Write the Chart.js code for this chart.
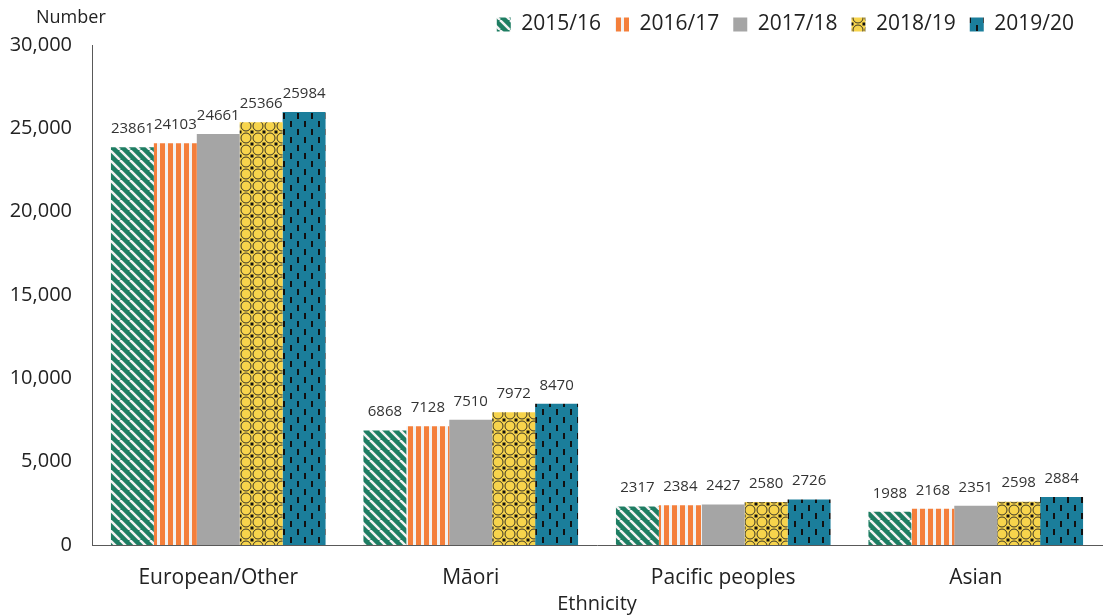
<!DOCTYPE html>
<html>
<head>
<meta charset="utf-8">
<script src="https://cdn.jsdelivr.net/npm/chart.js@4/dist/chart.umd.min.js"></script>
<style>
  html, body { margin: 0; padding: 0; background: #fff; }
  #wrap { width: 1110px; height: 616px; }
</style>
</head>
<body>
<div id="wrap"><canvas id="ethChart" width="1110" height="616"></canvas></div>
<script>
const categories = ["European/Other", "Māori", "Pacific peoples", "Asian"];
const years = ["2015/16", "2016/17", "2017/18", "2018/19", "2019/20"];
const v2015 = [23861, 6868, 2317, 1988];
const v2016 = [24103, 7128, 2384, 2168];
const v2017 = [24661, 7510, 2427, 2351];
const v2018 = [25366, 7972, 2580, 2598];
const v2019 = [25984, 8470, 2726, 2884];
const yTicks = [0, 5000, 10000, 15000, 20000, 25000, 30000];

const FONT = "'Open Sans', 'Liberation Sans', sans-serif";

// pattern helpers
function tile(w, h, draw) {
	const c = document.createElement("canvas");
	c.width = w; c.height = h;
	const g = c.getContext("2d");
	draw(g);
	return document.createElement("canvas").getContext("2d").createPattern(c, "repeat");
}

const greenStripes = tile(10, 10, g => {
	g.fillStyle = "#1e7d62";
	g.fillRect(0, 0, 10, 10);
	g.strokeStyle = "#f2f2f2";
	g.lineWidth = 2.5;
	for (let o = -10; o <= 10; o += 10) {
		g.beginPath();
		g.moveTo(o, 0);
		g.lineTo(o + 10, 10);
		g.stroke();
	}
});

const orangeStripes = tile(8, 8, g => {
	g.fillStyle = "#f2f2f2";
	g.fillRect(0, 0, 8, 8);
	g.fillStyle = "#f47f3b";
	g.fillRect(0, 0, 5, 8);
});

const yellowLattice = tile(12, 12, g => {
	g.fillStyle = "#f7d44c";
	g.fillRect(0, 0, 12, 12);
	g.strokeStyle = "#222";
	g.lineWidth = 0.9;
	g.beginPath();
	g.arc(6, 6, 5, 0, Math.PI * 2);
	g.stroke();
	g.fillStyle = "#111";
	g.fillRect(0, 0, 1.5, 1.5); g.fillRect(10.5, 0, 1.5, 1.5);
	g.fillRect(0, 10.5, 1.5, 1.5); g.fillRect(10.5, 10.5, 1.5, 1.5);
});

const tealDashes = tile(14, 16, g => {
	g.fillStyle = "#1b7e9b";
	g.fillRect(0, 0, 14, 16);
	g.fillStyle = "#111";
	g.fillRect(3, 1, 2, 6);
	g.fillRect(10, 9, 2, 6);
});

const fills = [greenStripes, orangeStripes, "#a5a5a5", yellowLattice, tealDashes];
const series = [v2015, v2016, v2017, v2018, v2019];

// value labels above bars
const barLabels = {
	id: "barLabels",
	afterDatasetsDraw(chart) {
		const ctx = chart.ctx;
		ctx.save();
		ctx.font = "15px " + FONT;
		ctx.fillStyle = "#333";
		ctx.textAlign = "center";
		ctx.textBaseline = "bottom";
		chart.data.datasets.forEach((ds, i) => {
			chart.getDatasetMeta(i).data.forEach((bar, j) => {
				ctx.fillText(String(ds.data[j]), bar.x, bar.y - 11);
			});
		});
		ctx.restore();
	}
};

// "Number" caption over the y axis
const yCaption = {
	id: "yCaption",
	afterDraw(chart) {
		const ctx = chart.ctx;
		ctx.save();
		ctx.font = "18px " + FONT;
		ctx.fillStyle = "#222";
		ctx.textAlign = "left";
		ctx.textBaseline = "middle";
		ctx.fillText("Number", 36, 18);
		ctx.restore();
	}
};

// legend sits a little in from the right edge
const legendShift = {
	id: "legendShift",
	afterUpdate(chart) {
		const lg = chart.legend;
		if (!lg) return;
		lg.right -= 14;
		lg.adjustHitBoxes();
	}
};

const ctx = document.getElementById("ethChart").getContext("2d");
new Chart(ctx, {
	type: "bar",
	data: {
		labels: categories,
		datasets: years.map((y, i) => ({
			label: y,
			data: series[i],
			backgroundColor: fills[i],
			borderWidth: 0,
			categoryPercentage: 0.85,
			barPercentage: 1.0,
		})),
	},
	options: {
		responsive: false,
		maintainAspectRatio: false,
		animation: false,
		layout: { padding: { left: 0, right: 8, top: 0, bottom: 0 } },
		plugins: {
			tooltip: { enabled: false },
			legend: {
				position: "top",
				align: "end",
				labels: {
					font: { size: 21, family: FONT },
					color: "#222",
					boxWidth: 14,
					boxHeight: 14,
					padding: 14,
				},
			},
		},
		scales: {
			x: {
				afterFit: axis => { axis.height = 71; },
				grid: { display: false },
				border: { display: true, color: "#595959", width: 1 },
				ticks: { font: { size: 21, family: FONT }, color: "#222", padding: 12 },
				title: { display: true, text: "Ethnicity", font: { size: 20, family: FONT }, color: "#222", padding: { top: 0, bottom: 0 } },
			},
			y: {
				min: 0,
				max: 30000,
				afterFit: axis => { axis.width = 92; },
				afterBuildTicks: axis => { axis.ticks = yTicks.map(v => ({ value: v })); },
				grid: { display: false },
				border: { display: true, color: "#595959", width: 1 },
				ticks: {
					font: { size: 20, family: FONT },
					color: "#222",
					padding: 12,
					callback: v => v.toLocaleString("en-US"),
				},
			},
		},
	},
	plugins: [barLabels, yCaption, legendShift],
});
</script>
</body>
</html>
